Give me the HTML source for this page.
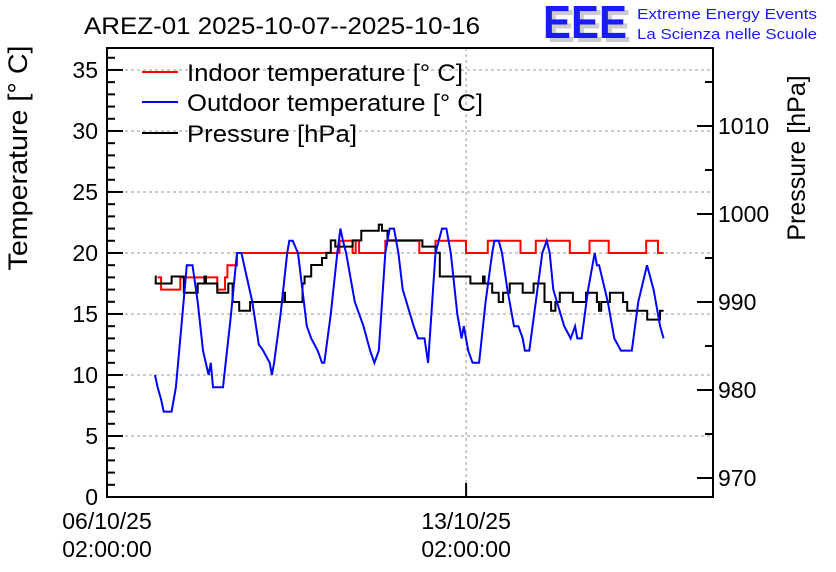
<!DOCTYPE html>
<html><head><meta charset="utf-8"><style>
body{margin:0;background:#fff;}
svg{display:block;font-family:"Liberation Sans",sans-serif;}
</style></head><body>
<svg id="c" width="836" height="572">
<text x="84" y="34" font-size="24" textLength="396" lengthAdjust="spacingAndGlyphs">AREZ-01 2025-10-07--2025-10-16</text>
<g>
<text x="547" y="42" font-size="46" fill="#ccc" font-weight="bold" textLength="84" lengthAdjust="spacingAndGlyphs">EEE</text>
<text x="543" y="38" font-size="46" fill="#1a1aff" font-weight="bold" textLength="84" lengthAdjust="spacingAndGlyphs">EEE</text>
<text x="637" y="19" font-size="15" fill="#1a1aff" textLength="180" lengthAdjust="spacingAndGlyphs">Extreme Energy Events</text>
<text x="637" y="39" font-size="15" fill="#1a1aff" textLength="180" lengthAdjust="spacingAndGlyphs">La Scienza nelle Scuole</text>
</g>
<text transform="translate(27,158) rotate(-90)" text-anchor="middle" font-size="27" textLength="225" lengthAdjust="spacingAndGlyphs">Temperature [° C]</text>
<text transform="translate(805,158) rotate(-90)" text-anchor="middle" font-size="25">Pressure [hPa]</text>
<g id="grid"></g><g id="series"></g><g id="axes"></g>
<g>
<line x1="142" y1="72" x2="178" y2="72" stroke="#f00" stroke-width="2"/>
<text x="187" y="81" font-size="24" textLength="276" lengthAdjust="spacingAndGlyphs">Indoor temperature [° C]</text>
<line x1="142" y1="102" x2="178" y2="102" stroke="#00f" stroke-width="2"/>
<text x="187" y="111" font-size="24" textLength="296" lengthAdjust="spacingAndGlyphs">Outdoor temperature [° C]</text>
<line x1="142" y1="133" x2="178" y2="133" stroke="#000" stroke-width="2"/>
<text x="187" y="142" font-size="24" textLength="170" lengthAdjust="spacingAndGlyphs">Pressure [hPa]</text>
</g>
</svg>
<script>
const outT=[0.935,0.986,1.054,1.105,1.259,1.344,1.471,1.556,1.667,1.769,1.871,1.981,2.024,2.066,2.262,2.406,2.534,2.62,2.832,2.959,3.044,3.172,3.214,3.257,3.384,3.512,3.554,3.62,3.724,3.895,3.98,4.107,4.192,4.235,4.362,4.49,4.549,4.6,4.66,4.83,5.0,5.128,5.213,5.298,5.425,5.51,5.595,5.68,5.765,5.978,6.063,6.19,6.259,6.403,6.531,6.616,6.701,6.828,6.913,6.956,7.041,7.126,7.253,7.381,7.509,7.551,7.636,7.7,7.806,7.934,8.019,8.104,8.146,8.231,8.359,8.486,8.571,8.63,8.699,8.912,9.039,9.124,9.167,9.252,9.379,9.507,9.55,9.592,9.762,9.889,10.017,10.23,10.357,10.527,10.655,10.782,10.85];
const outV=[10,9,8,7,7,9,15,19,19,16,12,10,11,9,9,14.5,20,20,16,12.5,12,11,10,11,15,20,21,21,20,14,13,12,11,11,15,20,22,21,20,16,14,12,11,12,20,22,22,20,17,14,13,13,11,20,22,22,20,15,13,14,12,11,11,16,20,21,21,20,17,14,14,13,12,12,16,20,21,20,17,14,13,14,13,13,17,20,19,19,16,13,12,12,16,19,17,14,13];
const inT=[0.986,1.054,1.429,2.151,2.30,2.347,2.534,4.532,4.787,4.847,4.915,5.425,6.088,6.403,6.998,7.423,8.061,8.359,9.022,9.405,9.779,10.51,10.74,10.85];
const inV=[18,17,18,17,18,19,20,21,20,21,20,21,20,21,20,21,20,21,20,21,20,21,20,20];
const prT=[0.935,0.95,1.259,1.497,1.769,1.9,1.93,2.151,2.364,2.449,2.577,2.789,3.427,3.469,3.81,3.852,3.98,4.192,4.277,4.362,4.45,4.787,4.957,5.298,5.36,5.468,6.148,6.403,6.488,7.083,7.33,7.36,7.509,7.636,7.721,7.849,8.104,8.316,8.529,8.656,8.741,8.827,9.082,9.337,9.549,9.59,9.634,9.804,10.06,10.14,10.53,10.78,10.85];
const prV=[992.9,992.1,992.9,991.06,992.1,992.9,992.1,991.06,992.1,990,989,990,991.06,990,992.1,992.9,994.2,995,995.6,997,996.3,997,998.1,998.8,998.1,997,996.3,995.6,992.9,992.1,992.9,992.1,991.06,990,991.06,992.1,991.06,992.1,990,989,990,991.06,990,991.06,990,989,990,991.06,990,989,988,989,989];
const tempTicks=[0,5,10,15,20,25,30,35];
const presTicks=[970,980,990,1000,1010];
const xTickDays=[0,7];
const xTickLabels=[["06/10/25","02:00:00"],["13/10/25","02:00:00"]];

const L=107,R=713,T=48,B=497;
const sx=d=>L+d*51.3;
const sy=v=>B-v*(B-T)/36.8;
const sp=p=>B-(p-967.84)*8.8;
const NS="http://www.w3.org/2000/svg";
function mk(tag,attrs,parent){const e=document.createElementNS(NS,tag);for(const k in attrs)e.setAttribute(k,attrs[k]);parent.appendChild(e);return e;}
const grid=document.getElementById('grid'),ser=document.getElementById('series'),ax=document.getElementById('axes');
tempTicks.forEach(v=>{if(v>0){const g=mk('line',{x1:L,x2:R,y1:sy(v),y2:sy(v),stroke:'#999','stroke-dasharray':'3,3'},grid);

}});
xTickDays.forEach(d=>{if(d>0){const g=mk('line',{x1:sx(d),x2:sx(d),y1:T,y2:B,stroke:'#999','stroke-dasharray':'3,3'},grid);

}});
function linePath(ts,vs,f){return ts.map((t,i)=>(i?'L':'M')+sx(t).toFixed(1)+','+f(vs[i]).toFixed(1)).join('');}
function stepPath(ts,vs,f){let d='';ts.forEach((t,i)=>{const x=sx(t).toFixed(1),y=f(vs[i]).toFixed(1);if(i===0)d+='M'+x+','+y;else d+='H'+x+'V'+y;});return d;}
const pIn=mk('path',{d:stepPath(inT,inV,sy),fill:'none',stroke:'#f00','stroke-width':2},ser);


const pPr=mk('path',{d:stepPath(prT,prV,sp),fill:'none',stroke:'#000','stroke-width':2},ser);


const pOut=mk('path',{d:linePath(outT,outV,sy),fill:'none',stroke:'#00f','stroke-width':2},ser);


const fr=mk('rect',{x:L,y:T,width:R-L,height:B-T,fill:'none',stroke:'#000','stroke-width':2},ax);


for(let v=0;v<=36;v++){const major=v%5===0;mk('line',{x1:L,x2:L+(major?16:8),y1:sy(v),y2:sy(v),stroke:'#000','stroke-width':2},ax);}
tempTicks.forEach(v=>{const t=mk('text',{x:L-9,y:sy(v)+8,'text-anchor':'end','font-size':23},ax);t.textContent=v;

});
for(let p=970;p<=1015;p+=5){const major=p%10===0;mk('line',{x1:R-(major?16:8),x2:R,y1:sp(p),y2:sp(p),stroke:'#000','stroke-width':2},ax);}
presTicks.forEach(p=>{const t=mk('text',{x:R+5,y:sp(p)+8,'font-size':23},ax);t.textContent=p;

});
xTickDays.forEach((d,i)=>{mk('line',{x1:sx(d),x2:sx(d),y1:B-14,y2:B,stroke:'#000','stroke-width':2},ax);
xTickLabels[i].forEach((s,j)=>{const t=mk('text',{x:sx(d),y:529+j*28,'text-anchor':'middle','font-size':23},ax);t.textContent=s;

});});
</script>
</body></html>
